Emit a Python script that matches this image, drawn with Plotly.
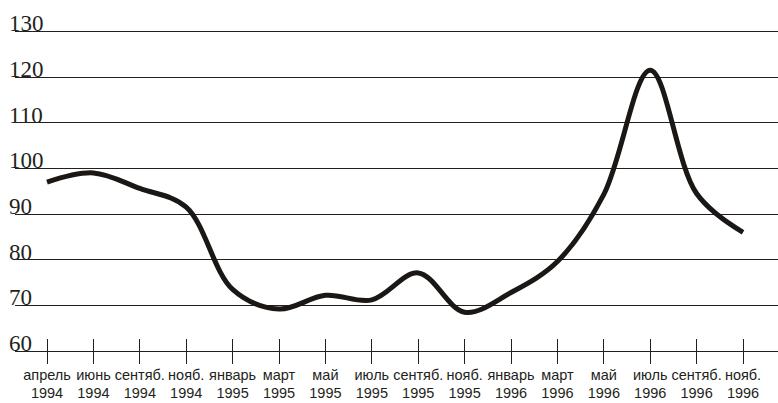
import plotly.graph_objects as go

months = ["апрель", "июнь", "сентяб.", "нояб.", "январь", "март", "май", "июль",
          "сентяб.", "нояб.", "январь", "март", "май", "июль", "сентяб.", "нояб."]
years = ["1994", "1994", "1994", "1994", "1995", "1995", "1995", "1995",
         "1995", "1995", "1996", "1996", "1996", "1996", "1996", "1996"]
values = [97.0, 99.0, 95.6, 91.5, 73.5, 69.2, 72.2, 71.2,
          77.1, 68.5, 72.8, 79.6, 94.3, 121.5, 94.5, 86.0]
y_ticks = [60, 70, 80, 90, 100, 110, 120, 130]

categories = [f"{m}<br>{y}" for m, y in zip(months, years)]

INK = "#231f20"

fig = go.Figure()
fig.add_trace(go.Scatter(
    x=categories, y=values, mode="lines",
    line=dict(color="#1a1714", width=5, shape="spline", smoothing=1.0),
    hoverinfo="skip", showlegend=False, cliponaxis=False,
))
# invisible trace to carry the inner tick marks
fig.add_trace(go.Scatter(
    x=categories, y=values, mode="lines", xaxis="x2",
    line=dict(color="rgba(0,0,0,0)", width=0), hoverinfo="skip", showlegend=False,
))

xr = [-0.69, 15.754]
fig.update_layout(
    width=778, height=403,
    margin=dict(l=15, r=0, t=28, b=52),
    paper_bgcolor="white", plot_bgcolor="white",
    xaxis=dict(
        type="category", range=xr, showgrid=False,
        showline=True, linecolor=INK, linewidth=1.3,
        ticks="outside", ticklen=12, tickwidth=1.3, tickcolor=INK,
        tickfont=dict(family="Liberation Sans", size=14.5, color=INK),
        tickangle=0, automargin=False,
        ticklabelstandoff=-2,
        zeroline=False,
    ),
    xaxis2=dict(
        type="category", range=xr, overlaying="x", matches="x", side="bottom",
        showgrid=False, showline=False,
        ticks="inside", ticklen=12, tickwidth=1.3, tickcolor=INK,
        showticklabels=False, zeroline=False, automargin=False,
    ),
    yaxis=dict(
        range=[60, 130.74], tickvals=y_ticks, showticklabels=False,
        showgrid=True, gridcolor=INK, gridwidth=1.2,
        ticks="", zeroline=False, showline=False, automargin=False,
    ),
)

for v in y_ticks:
    fig.add_annotation(
        x=-0.011, xref="paper", y=v, yref="y",
        text=str(v), showarrow=False, xanchor="left", yanchor="bottom",
        yshift=-7,
        font=dict(family="Liberation Serif", size=23, color=INK),
    )

fig.write_html("out.html", config={"displayModeBar": False},
               post_script="document.body.style.margin='0';")
